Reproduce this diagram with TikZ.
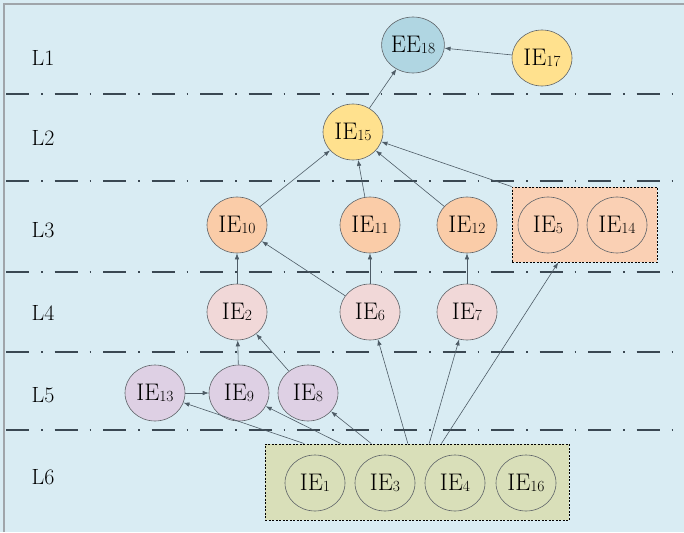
\documentclass[tikz,border=0pt]{standalone}
\usetikzlibrary{arrows.meta,shapes.geometric,calc}

\definecolor{bgblue}{RGB}{217,236,243}
\definecolor{frameg}{RGB}{160,165,170}
\definecolor{sepline}{RGB}{58,72,82}
\definecolor{edgecol}{RGB}{78,92,102}
\definecolor{ringcol}{RGB}{95,100,105}
\definecolor{eeblue}{RGB}{176,214,226}
\definecolor{ieyellow}{RGB}{255,225,142}
\definecolor{iepeach}{RGB}{250,204,168}
\definecolor{boxpeach}{RGB}{250,208,180}
\definecolor{iepink}{RGB}{241,216,216}
\definecolor{ielav}{RGB}{222,208,228}
\definecolor{boxolive}{RGB}{217,223,185}

% subscripted element label, e.g. \elab{IE}{15}
\newcommand{\elab}[2]{#1\raisebox{-1.2pt}{\fontsize{15.5}{15.5}\selectfont #2}}

\tikzset{
  elem/.style={ellipse, draw=ringcol, line width=0.6pt, minimum width=60pt,
    minimum height=56pt, inner sep=0pt, font=\fontsize{24}{28}\selectfont},
  inner/.style={elem, fill=none},
  groupbox/.style={draw=black, line width=0.9pt, dash pattern=on 2pt off 1.5pt,
    inner sep=0pt},
  layersep/.style={draw=sepline, line width=1.9pt,
    dash pattern=on 23pt off 12pt on 1.5pt off 12pt},
  layerlab/.style={font=\fontsize{22}{26}\selectfont},
  link/.style={draw=edgecol, line width=0.6pt,
    -{Latex[length=6pt,width=4.5pt]}},
}

\begin{document}
\begin{tikzpicture}[x=1pt, y=-1pt]
  \useasboundingbox (0,0) rectangle (684,532);
  \fill[bgblue] (0,0) rectangle (684,532);
  \draw[frameg, line width=1.6pt] (4,532) -- (4,4) -- (684,4);

  % layer separators
  \foreach \yy in {94,181,272,352,430}
    \draw[layersep] (6,\yy) -- (684,\yy);

  % layer labels
  \node[layerlab] (l1) at (43,58) {L1};
  \node[layerlab] (l2) at (43,138) {L2};
  \node[layerlab] (l3) at (43,230) {L3};
  \node[layerlab] (l4) at (43,313) {L4};
  \node[layerlab] (l5) at (43,395) {L5};
  \node[layerlab] (l6) at (43,477) {L6};

  % L1
  \node[elem, fill=eeblue] (ee18) at (413,45) {\elab{EE}{18}};
  \node[elem, fill=ieyellow] (ie17) at (542,58) {\elab{IE}{17}};
  % L2
  \node[elem, fill=ieyellow] (ie15) at (353,132) {\elab{IE}{15}};
  % L3
  \node[elem, fill=iepeach] (ie10) at (237,225) {\elab{IE}{10}};
  \node[elem, fill=iepeach] (ie11) at (370,225) {\elab{IE}{11}};
  \node[elem, fill=iepeach] (ie12) at (467,225) {\elab{IE}{12}};
  \node[groupbox, fill=boxpeach, minimum width=145pt, minimum height=75pt]
    (g3) at (584.5,224.5) {};
  \node[inner] (ie5) at (548,225) {\elab{IE}{5}};
  \node[inner] (ie14) at (617,225) {\elab{IE}{14}};
  % L4
  \node[elem, fill=iepink] (ie2) at (237,312) {\elab{IE}{2}};
  \node[elem, fill=iepink] (ie6) at (370,312) {\elab{IE}{6}};
  \node[elem, fill=iepink] (ie7) at (467,312) {\elab{IE}{7}};
  % L5
  \node[elem, fill=ielav] (ie13) at (155,393) {\elab{IE}{13}};
  \node[elem, fill=ielav] (ie9) at (239,393) {\elab{IE}{9}};
  \node[elem, fill=ielav] (ie8) at (308,393) {\elab{IE}{8}};
  % L6
  \node[groupbox, fill=boxolive, minimum width=304pt, minimum height=76pt]
    (g6) at (417,482) {};
  \node[inner] (ie1) at (315,483) {\elab{IE}{1}};
  \node[inner] (ie3) at (385,483) {\elab{IE}{3}};
  \node[inner] (ie4) at (455,483) {\elab{IE}{4}};
  \node[inner] (ie16) at (526,483) {\elab{IE}{16}};

  % exits on the top edge of the L6 group, entry on the bottom of the L3 group
  \coordinate (s1) at ($(g6.north west)!0.13!(g6.north east)$);
  \coordinate (s2) at ($(g6.north west)!0.25!(g6.north east)$);
  \coordinate (s3) at ($(g6.north west)!0.35!(g6.north east)$);
  \coordinate (s4) at ($(g6.north west)!0.47!(g6.north east)$);
  \coordinate (s5) at ($(g6.north west)!0.54!(g6.north east)$);
  \coordinate (s6) at ($(g6.north west)!0.58!(g6.north east)$);
  \coordinate (g3in) at ($(g3.south west)!0.32!(g3.south east)$);

  % dependencies
  \draw[link] (ie17) -- (ee18);
  \draw[link] (ie15) -- (ee18);
  \draw[link] (ie10) -- (ie15);
  \draw[link] (ie11) -- (ie15);
  \draw[link] (ie12) -- (ie15);
  \draw[link] (g3.north west) -- (ie15);
  \draw[link] (ie2) -- (ie10);
  \draw[link] (ie6) -- (ie10);
  \draw[link] (ie6) -- (ie11);
  \draw[link] (ie7) -- (ie12);
  \draw[link] (ie9) -- (ie2);
  \draw[link] (ie8) -- (ie2);
  \draw[link] (ie13) -- (ie9);
  \draw[link] (s1) -- (ie13);
  \draw[link] (s2) -- (ie9);
  \draw[link] (s3) -- (ie8);
  \draw[link] (s4) -- (ie6);
  \draw[link] (s5) -- (ie7);
  \draw[link] (s6) -- (g3in);
\end{tikzpicture}
\end{document}
